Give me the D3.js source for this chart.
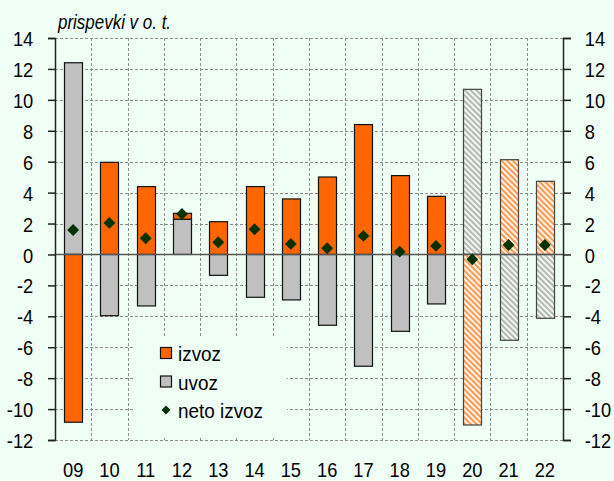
<!DOCTYPE html>
<html>
<head>
<meta charset="utf-8">
<script src="https://cdn.jsdelivr.net/npm/d3@7"></script>
<style>
  body { margin: 0; background: #effff5; }
  svg text { font-family: "Liberation Sans", Arial, sans-serif; fill: #000; }
</style>
</head>
<body>
<div id="chart"></div>
<script>
// years (20-22 are forecasts, drawn hatched)
let years = ['09', '10', '11', '12', '13', '14', '15', '16', '17', '18', '19', '20', '21', '22'];
let forecast = ['20', '21', '22'];
let izvoz = [-10.85, 5.96, 4.39, 0.38, 2.12, 4.39, 3.59, 5.01, 8.40, 5.10, 3.76, -11.03, 6.13, 4.73];
let uvoz = [12.40, -3.96, -3.33, 2.28, -1.35, -2.77, -2.94, -4.58, -7.23, -4.97, -3.20, 10.68, -5.55, -4.13];
let neto = [1.58, 2.04, 1.05, 2.62, 0.79, 1.63, 0.68, 0.40, 1.20, 0.18, 0.55, -0.31, 0.61, 0.61];
let yTicks = [-12, -10, -8, -6, -4, -2, 0, 2, 4, 6, 8, 10, 12, 14];
let legendItems = ['izvoz', 'uvoz', 'neto izvoz'];

let W = 614, H = 481;
let narrow = 0.87;   // the original text is horizontally squeezed

let svg = d3.select('#chart').append('svg')
    .attr('width', W)
    .attr('height', H);

svg.append('rect').attr('width', W).attr('height', H).attr('fill', '#effff5');

// hatch patterns for forecast bars
let defs = svg.append('defs');
function hatch(id, bg, fg) {
    let p = defs.append('pattern')
        .attr('id', id)
        .attr('patternUnits', 'userSpaceOnUse')
        .attr('width', 4).attr('height', 4)
        .attr('patternTransform', 'rotate(-45)');
    p.append('rect').attr('width', 4).attr('height', 4).attr('fill', bg);
    p.append('rect').attr('width', 2).attr('height', 4).attr('fill', fg);
}
hatch('hatchOrange', '#fff2e6', '#ff9a55');
hatch('hatchGray', '#f2f7f2', '#b3b8b3');

let x = d3.scaleBand()
    .domain(years)
    .range([55, 563])
    .paddingInner(0.5)
    .paddingOuter(0.25);

let y = d3.scaleLinear()
    .domain([-12, 14])
    .range([440, 38]);

// grid
let grid = svg.append('g')
    .attr('stroke', '#8c8c8c')
    .attr('stroke-width', 1)
    .attr('stroke-dasharray', '3,2');
grid.selectAll('line.h')
    .data(yTicks.filter(d => d != 0))
    .enter().append('line')
    .attr('x1', 55).attr('x2', 563)
    .attr('y1', d => Math.round(y(d)) + 0.5)
    .attr('y2', d => Math.round(y(d)) + 0.5);
grid.selectAll('line.v')
    .data(years.slice(1))
    .enter().append('line')
    .attr('x1', d => Math.round(x(d) - x.step() * x.paddingInner() / 2) + 0.5)
    .attr('x2', d => Math.round(x(d) - x.step() * x.paddingInner() / 2) + 0.5)
    .attr('y1', y(14)).attr('y2', y(-12));

// legend background hides the grid under it
svg.append('rect')
    .attr('x', 133).attr('y', 337)
    .attr('width', 154).attr('height', 99)
    .attr('fill', '#effff5');

function fillFor(year, kind) {
    let f = forecast.includes(year);
    if (kind == 'izvoz') return f ? 'url(#hatchOrange)' : '#ff6600';
    return f ? 'url(#hatchGray)' : '#c0c0c0';
}

// stacked bars: positives stack up from 0, negatives stack down from 0
let bars = [];
years.forEach(function (yr, i) {
    let pos = 0, neg = 0;
    [['uvoz', uvoz[i]], ['izvoz', izvoz[i]]].forEach(function (s) {
        let v = s[1];
        if (v >= 0) { bars.push({ year: yr, kind: s[0], y0: pos, y1: pos + v }); pos += v; }
        else { bars.push({ year: yr, kind: s[0], y0: neg, y1: neg + v }); neg += v; }
    });
});

svg.append('g').selectAll('rect')
    .data(bars)
    .enter().append('rect')
    .attr('x', d => Math.round(x(d.year)) + 0.5)
    .attr('width', Math.round(x.bandwidth()))
    .attr('y', d => y(Math.max(d.y0, d.y1)))
    .attr('height', d => Math.abs(y(d.y0) - y(d.y1)))
    .attr('fill', d => fillFor(d.year, d.kind))
    .attr('stroke', d => forecast.includes(d.year) ? '#444' : '#111')
    .attr('stroke-width', 1.2);

// zero line
svg.append('line')
    .attr('x1', 55).attr('x2', 563)
    .attr('y1', y(0)).attr('y2', y(0))
    .attr('stroke', '#555').attr('stroke-width', 1.6);

// net exports diamonds
let diamond = d3.symbol().type(d3.symbolSquare).size(70);
svg.append('g').selectAll('path')
    .data(neto)
    .enter().append('path')
    .attr('d', diamond)
    .attr('transform', (d, i) => 'translate(' + (x(years[i]) + x.bandwidth() / 2) + ',' + y(d) + ') rotate(45)')
    .attr('fill', '#003300');

// axes
let fmt = d => String(d);
let leftAxis = svg.append('g')
    .attr('transform', 'translate(55,0)')
    .call(d3.axisLeft(y).tickValues(yTicks).tickSize(7).tickPadding(18).tickFormat(fmt));
let rightAxis = svg.append('g')
    .attr('transform', 'translate(563,0)')
    .call(d3.axisRight(y).tickValues(yTicks).tickSize(8).tickPadding(17).tickFormat(fmt));
let bottomAxis = svg.append('g')
    .attr('transform', 'translate(0,440)')
    .call(d3.axisBottom(x).tickSize(0).tickPadding(22));
bottomAxis.select('.domain').remove();

[leftAxis, rightAxis].forEach(function (a) {
    a.select('.domain').attr('stroke', '#222').attr('stroke-width', 1.5);
    a.selectAll('.tick line').attr('stroke', '#222').attr('stroke-width', 1.5);
});
svg.selectAll('.tick text')
    .style('font-size', '21px')
    .style('font-family', '"Liberation Sans", Arial, sans-serif')
    .attr('transform', 'scale(' + narrow + ',1)');
leftAxis.selectAll('.tick text').attr('dy', '0.36em');
rightAxis.selectAll('.tick text').attr('dy', '0.36em');

// title
svg.append('text')
    .attr('transform', 'translate(58,29) scale(' + narrow + ',1)')
    .style('font-size', '19.5px')
    .style('font-style', 'italic')
    .text('prispevki v o. t.');

// legend
let legend = svg.append('g').attr('transform', 'translate(160,353)');
legendItems.forEach(function (name, i) {
    let g = legend.append('g').attr('transform', 'translate(0,' + (i * 28.5) + ')');
    if (i < 2) {
        g.append('rect')
            .attr('x', 0.5).attr('y', -5.5)
            .attr('width', 11).attr('height', 11)
            .attr('fill', i == 0 ? '#ff6600' : '#c0c0c0')
            .attr('stroke', '#111').attr('stroke-width', 1.2);
    } else {
        g.append('path')
            .attr('d', d3.symbol().type(d3.symbolSquare).size(40))
            .attr('transform', 'translate(6,0) rotate(45)')
            .attr('fill', '#003300');
    }
    g.append('text')
        .attr('transform', 'translate(18,8) scale(0.9,1)')
        .style('font-size', '21px')
        .text(name);
});
</script>
</body>
</html>
